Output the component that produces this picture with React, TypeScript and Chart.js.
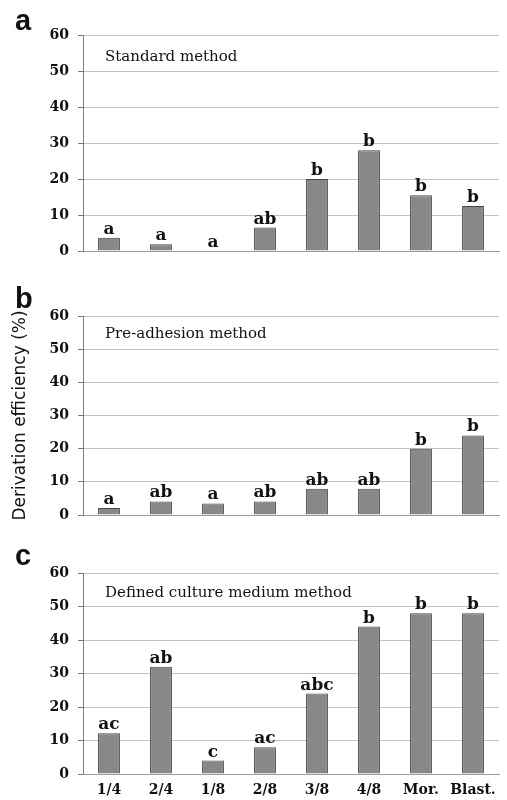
import React, { useEffect, useRef } from "react";
import { Chart, registerables } from "chart.js";

Chart.register(...registerables);

const categories = ["1/4", "2/4", "1/8", "2/8", "3/8", "4/8", "Mor.", "Blast."];
const standardValues = [3.7, 1.9, 0, 6.5, 20, 28, 15.5, 12.5];
const standardLetters = ["a", "a", "a", "ab", "b", "b", "b", "b"];
const preAdhesionValues = [2.1, 4.1, 3.5, 4.1, 7.9, 7.9, 20, 24];
const preAdhesionLetters = ["a", "ab", "a", "ab", "ab", "ab", "b", "b"];
const definedValues = [12.2, 32, 4, 8, 24, 44, 48, 48];
const definedLetters = ["ac", "ab", "c", "ac", "abc", "b", "b", "b"];
const panelLetters = ["a", "b", "c"];
const panelTitles = ["Standard method", "Pre-adhesion method", "Defined culture medium method"];
const yAxisTitle = "Derivation efficiency (%)";
const yMin = 0;
const yMax = 60;
const yStep = 10;

type Panel = {
  letter: string;
  title: string;
  values: number[];
  letters: string[];
  top: number;
  height: number;
  plotTop: number;
  plotBottom: number;
  titleY: number;
  letterY: number;
  showX: boolean;
  showYTitle: boolean;
};

const panels: Panel[] = [
  { letter: panelLetters[0], title: panelTitles[0], values: standardValues, letters: standardLetters, top: 0, height: 262, plotTop: 35, plotBottom: 251, titleY: 61, letterY: 30, showX: false, showYTitle: false },
  { letter: panelLetters[1], title: panelTitles[1], values: preAdhesionValues, letters: preAdhesionLetters, top: 262, height: 262, plotTop: 54, plotBottom: 253, titleY: 76, letterY: 46, showX: false, showYTitle: true },
  { letter: panelLetters[2], title: panelTitles[2], values: definedValues, letters: definedLetters, top: 524, height: 276, plotTop: 49, plotBottom: 250, titleY: 73, letterY: 41, showX: true, showYTitle: false },
];

function PanelChart({ p }: { p: Panel }) {
  const ref = useRef<HTMLCanvasElement | null>(null);
  useEffect(() => {
    if (!ref.current) return;
    const annot = {
      id: "annot" + p.letter,
      afterDatasetsDraw(chart: any) {
        const ctx = chart.ctx;
        const meta = chart.getDatasetMeta(0);
        ctx.save();
        ctx.fillStyle = "#111";
        ctx.textAlign = "center";
        ctx.textBaseline = "alphabetic";
        ctx.font = "bold 17px 'DejaVu Serif'";
        meta.data.forEach((bar: any, i: number) => {
          ctx.fillText(p.letters[i], bar.x, bar.y - 4);
        });
        ctx.textAlign = "left";
        ctx.font = "15px 'DejaVu Serif'";
        ctx.fillText(p.title, 105, p.titleY);
        ctx.font = "bold 29px 'Liberation Sans'";
        ctx.fillText(p.letter, 15, p.letterY);
        ctx.restore();
      },
    };
    const chart = new Chart(ref.current, {
      type: "bar",
      data: {
        labels: categories,
        datasets: [
          {
            data: p.values,
            backgroundColor: "#888888",
            borderColor: "#444444",
            borderWidth: 1,
            barPercentage: 0.42,
            categoryPercentage: 1,
          },
        ],
      },
      options: {
        animation: false,
        responsive: false,
        maintainAspectRatio: false,
        layout: { padding: { left: 0, right: 8, top: p.plotTop, bottom: 0 } },
        plugins: { legend: { display: false }, tooltip: { enabled: false } },
        scales: {
          x: {
            grid: { display: false, drawTicks: false, tickLength: 0 },
            border: { display: true, color: "#9a9a9a", width: 1 },
            ticks: {
              display: p.showX,
              color: "#111",
              padding: 8,
              font: { family: "'DejaVu Serif'", size: 14, weight: "bold" },
              maxRotation: 0,
              autoSkip: false,
            },
            afterFit: (s: any) => {
              s.height = p.height - p.plotBottom;
              s.paddingLeft = 0;
              s.paddingRight = 0;
            },
          },
          y: {
            min: yMin,
            max: yMax,
            ticks: {
              stepSize: yStep,
              color: "#111",
              padding: 9,
              font: { family: "'DejaVu Serif'", size: 14, weight: "bold" },
            },
            grid: { color: "#c2c2c2", lineWidth: 1, tickLength: 5, tickColor: "#777" },
            border: { display: true, color: "#808080", width: 1 },
            title: {
              display: p.showYTitle,
              text: yAxisTitle,
              color: "#111",
              font: { family: "'DejaVu Sans'", size: 17 },
              padding: { top: 10, bottom: 0 },
            },
            afterFit: (s: any) => {
              s.width = 83;
              s.paddingTop = 0;
              s.paddingBottom = 0;
            },
          },
        },
      },
      plugins: [annot],
    });
    return () => chart.destroy();
  }, [p]);
  return (
    <canvas
      ref={ref}
      width={507}
      height={p.height}
      style={{ position: "absolute", left: 0, top: p.top, width: 507, height: p.height }}
    />
  );
}

export default function App() {
  return (
    <div style={{ position: "fixed", left: 0, top: 0, width: 507, height: 800, background: "#fff" }}>
      {panels.map((p) => (
        <PanelChart key={p.letter} p={p} />
      ))}
    </div>
  );
}
